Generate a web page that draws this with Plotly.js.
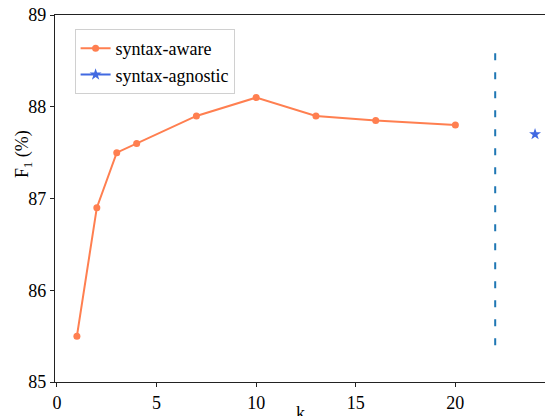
<!DOCTYPE html>
<html>
<head>
<meta charset="utf-8">
<script src="https://cdn.plot.ly/plotly-3.0.1.min.js"></script>
<style>html,body{margin:0;padding:0;overflow:hidden;background:#fff}</style>
</head>
<body>
<div id="chart" style="width:545px;height:416px"></div>
<script>
const kValues = [1, 2, 3, 4, 7, 10, 13, 16, 20];
const awareF1 = [85.5, 86.9, 87.5, 87.6, 87.9, 88.1, 87.9, 87.85, 87.8];
const agnosticK = [24];
const agnosticF1 = [87.7];
const dividerX = [22, 22];
const dividerY = [85.4, 88.6];
const xTicks = [0, 5, 10, 15, 20];
const yTicks = [85, 86, 87, 88, 89];

const font = {family: 'Liberation Serif, Times New Roman, serif', size: 18, color: '#000'};

const traces = [
  {x: kValues, y: awareF1, type: 'scatter', mode: 'lines+markers', name: 'syntax-aware',
   line: {color: '#FF7F50', width: 2}, marker: {color: '#FF7F50', size: 7, symbol: 'circle'}},
  {x: agnosticK, y: agnosticF1, type: 'scatter', mode: 'lines+markers', name: 'syntax-agnostic',
   line: {color: '#4169E1', width: 2}, marker: {color: '#4169E1', size: 9, symbol: 'star'}},
  {x: dividerX, y: dividerY, type: 'scatter', mode: 'lines', showlegend: false, hoverinfo: 'skip',
   line: {color: '#1f77b4', width: 2, dash: '7px,12px'}}
];

const layout = {
  width: 545, height: 416,
  margin: {l: 55, r: 0, t: 15, b: 34},
  paper_bgcolor: '#fff', plot_bgcolor: '#fff',
  font: font,
  showlegend: true,
  legend: {x: 0.04, y: 0.962, xanchor: 'left', yanchor: 'top', bgcolor: '#fff',
           bordercolor: '#d0d0d0', borderwidth: 1, font: font, tracegroupgap: 0},
  xaxis: {range: [-0.1, 24.5], tickvals: xTicks, ticktext: xTicks.map(String),
          showgrid: false, zeroline: false, showline: true, linecolor: '#222', linewidth: 1.2,
          mirror: true, ticks: 'outside', ticklen: 4, tickcolor: '#222'},
  yaxis: {range: [85, 89], tickvals: yTicks, ticktext: yTicks.map(String),
          showgrid: false, zeroline: false, showline: true, linecolor: '#222', linewidth: 1.2,
          ticks: 'outside', ticklen: 4, tickcolor: '#222'},
  annotations: [
    {text: 'F<sub>1</sub> (%)', textangle: -90, xref: 'paper', yref: 'paper',
     x: -0.064, y: 0.62, xanchor: 'center', yanchor: 'middle', showarrow: false, font: font},
    {text: 'k', xref: 'paper', yref: 'paper', x: 0.5, y: -0.052,
     xanchor: 'center', yanchor: 'top', showarrow: false, font: font}
  ]
};

Plotly.newPlot('chart', traces, layout, {displayModeBar: false, staticPlot: true});
</script>
</body>
</html>
